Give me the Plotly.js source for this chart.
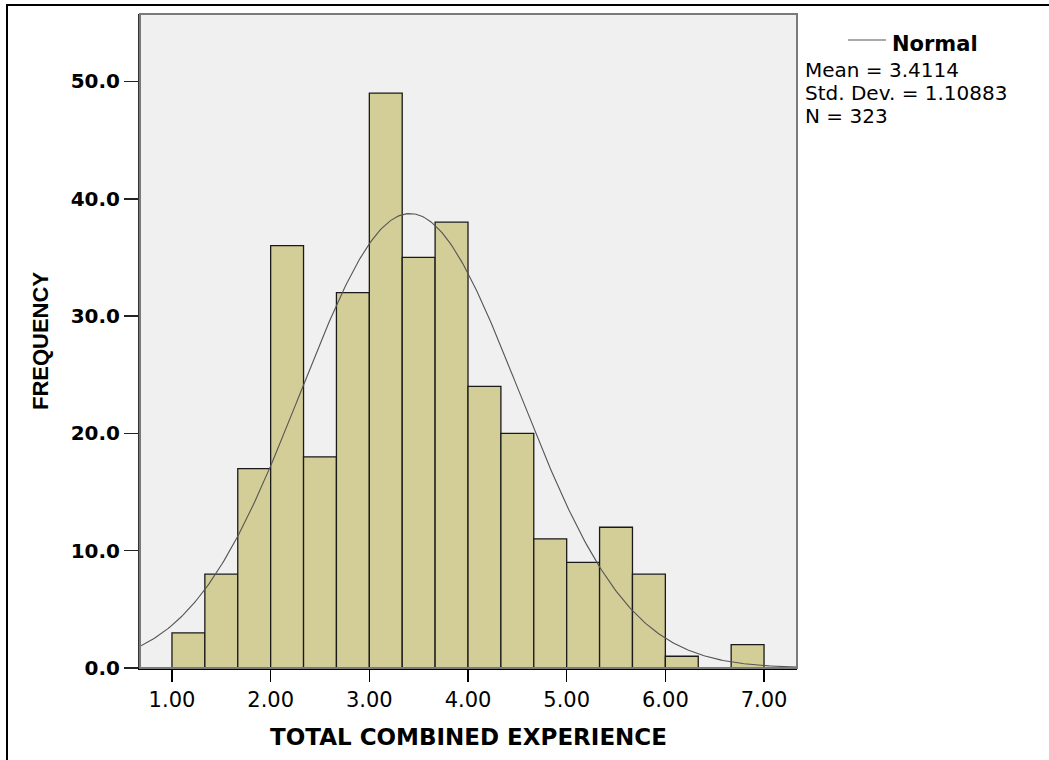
<!DOCTYPE html>
<html>
<head>
<meta charset="utf-8">
<script src="https://cdn.plot.ly/plotly-3.0.1.min.js"></script>
<style>
  html, body { margin: 0; padding: 0; background: #fff; }
  #wrap { position: relative; width: 1049px; height: 760px; overflow: hidden; }
  #chart { width: 1049px; height: 760px; }
  #frame { position: absolute; left: 6px; top: 4px; width: 1100px; height: 1000px;
           border-left: 2px solid #000; border-top: 2px solid #000; pointer-events: none; }
</style>
</head>
<body>
<div id="wrap">
  <div id="chart"></div>
  <div id="frame"></div>
</div>
<script>
// ---- data ----
const binStart = 1.0;
const binWidth = 1 / 3;
const counts = [3, 8, 17, 36, 18, 32, 49, 35, 38, 24, 20, 11, 9, 12, 8, 1, 0, 2];
const xTickVals = [1, 2, 3, 4, 5, 6, 7];
const xTickText = ['1.00', '2.00', '3.00', '4.00', '5.00', '6.00', '7.00'];
const yTickVals = [0, 10, 20, 30, 40, 50];
const yTickText = ['0.0', '10.0', '20.0', '30.0', '40.0', '50.0'];
const mean = 3.4114;
const stdDev = 1.10883;
const N = 323;
const legendLines = ['Mean = 3.4114', 'Std. Dev. = 1.10883', 'N = 323'];
const xTitle = 'TOTAL COMBINED EXPERIENCE';
const yTitle = 'FREQUENCY';

// ---- derived ----
const xRange = [0.676, 7.334];
const yRange = [0, 55.75];
const binCenters = counts.map((c, i) => binStart + (i + 0.5) * binWidth);

// Normal curve defined by the reported mean / std. dev. / N (scaled to bin width)
const curveX = [], curveY = [];
const steps = 400;
for (let i = 0; i <= steps; i++) {
  const x = xRange[0] + (xRange[1] - xRange[0]) * i / steps;
  const z = (x - mean) / stdDev;
  curveX.push(x);
  curveY.push(N * binWidth * Math.exp(-0.5 * z * z) / (stdDev * Math.sqrt(2 * Math.PI)));
}

const FONT = 'DejaVu Sans, Liberation Sans, Arial, sans-serif';

const traces = [
  {
    type: 'bar',
    x: binCenters,
    y: counts,
    width: binWidth,
    marker: { color: '#d3ce97', line: { color: '#1a1a1a', width: 1.3 } },
    hoverinfo: 'x+y',
    showlegend: false
  },
  {
    type: 'scatter',
    mode: 'lines',
    x: curveX,
    y: curveY,
    line: { color: '#555555', width: 1.1 },
    hoverinfo: 'skip',
    showlegend: false,
    cliponaxis: true
  }
];

// plot-area pixel helpers for legend text placement
const L = 140, R = 252, T = 14, B = 92, W = 1049, H = 760;
const pw = W - L - R, ph = H - T - B;
const px = v => (v - L) / pw;
const py = v => 1 - (v - T) / ph;

const annotations = [
  { text: '<b>Normal</b>', x: px(891), y: py(44), xref: 'paper', yref: 'paper',
    xanchor: 'left', yanchor: 'middle', showarrow: false, borderpad: 0,
    font: { family: FONT, size: 21, color: '#000' } }
].concat(legendLines.map((t, i) => ({
  text: t, x: px(804), y: py(70 + i * 23), xref: 'paper', yref: 'paper',
  xanchor: 'left', yanchor: 'middle', showarrow: false, borderpad: 0,
  font: { family: FONT, size: 20, color: '#000' }
})));

const layout = {
  width: W, height: H,
  margin: { l: L, r: R, t: T, b: B, pad: 0 },
  paper_bgcolor: '#ffffff',
  plot_bgcolor: '#f0f0f0',
  bargap: 0,
  showlegend: false,
  font: { family: FONT, color: '#000' },
  xaxis: {
    range: xRange,
    tickmode: 'array', tickvals: xTickVals, ticktext: xTickText,
    ticks: 'outside', ticklen: 12, tickwidth: 1.5, tickcolor: '#000',
    tickfont: { family: FONT, size: 21, color: '#000' },
    showline: true, linecolor: '#000', linewidth: 2,
    showgrid: false, zeroline: false, fixedrange: true,
    title: { text: xTitle, standoff: 18,
             font: { family: FONT, size: 23, color: '#000', weight: 'bold' } }
  },
  yaxis: {
    range: yRange,
    tickmode: 'array', tickvals: yTickVals, ticktext: yTickText,
    ticks: 'outside', ticklen: 14, tickwidth: 1.5, tickcolor: '#222',
    tickfont: { family: FONT, size: 20, color: '#000', weight: 'bold' },
    showline: true, linecolor: '#333', linewidth: 2,
    showgrid: false, zeroline: false, fixedrange: true,
    title: { text: yTitle, standoff: 16,
             font: { family: 'Liberation Sans, Arial, sans-serif', size: 22, color: '#000', weight: 'bold' } }
  },
  shapes: [
    { type: 'rect', xref: 'paper', yref: 'paper', x0: 0, x1: 1, y0: 0, y1: 1,
      line: { color: '#7a7a7a', width: 2 }, layer: 'above' },
    { type: 'line', xref: 'paper', yref: 'paper', x0: px(848), x1: px(886), y0: py(40), y1: py(40),
      line: { color: '#555555', width: 1.1 } }
  ],
  annotations: annotations
};

Plotly.newPlot('chart', traces, layout, { displayModeBar: false, staticPlot: true });
</script>
</body>
</html>
